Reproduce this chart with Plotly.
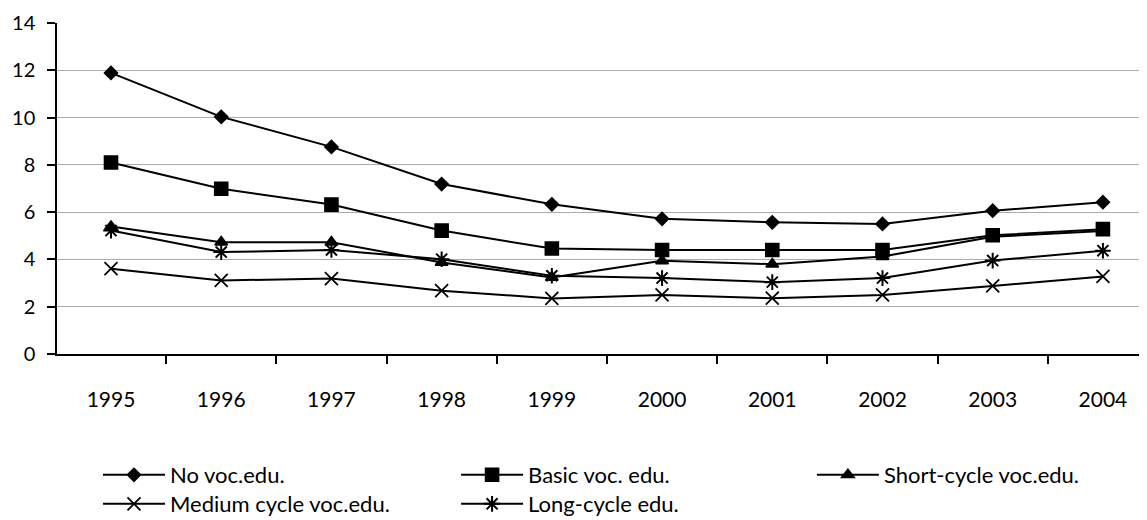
import plotly.graph_objects as go

years = ["1995", "1996", "1997", "1998", "1999", "2000", "2001", "2002", "2003", "2004"]

no_voc = [11.89, 10.03, 8.76, 7.19, 6.33, 5.72, 5.57, 5.50, 6.06, 6.42]
basic_voc = [8.10, 6.99, 6.32, 5.22, 4.46, 4.40, 4.40, 4.40, 5.02, 5.28]
short_cycle = [5.39, 4.73, 4.73, 3.87, 3.24, 3.94, 3.80, 4.12, 4.96, 5.20]
medium_cycle = [3.61, 3.11, 3.19, 2.68, 2.35, 2.50, 2.36, 2.50, 2.88, 3.28]
long_cycle = [5.22, 4.31, 4.40, 4.01, 3.31, 3.21, 3.04, 3.21, 3.95, 4.37]

FONT = "Lato, 'Open Sans', sans-serif"

# name, values, marker symbol, marker size, marker line width, legend slot (container coords)
series = [
    ("No voc.edu.", no_voc, "diamond", 10, 1.6, (0.079, 0.0879)),
    ("Basic voc. edu.", basic_voc, "square", 13, 1.6, (0.3934, 0.0879)),
    ("Short-cycle voc.edu.", short_cycle, "triangle-up", 11, 1.6, (0.7058, 0.0879)),
    ("Medium cycle voc.edu.", medium_cycle, "x-thin", 13, 1.8, (0.079, 0.0312)),
    ("Long-cycle edu.", long_cycle, "asterisk-open", 13, 2.0, (0.3934, 0.0312)),
]

fig = go.Figure()
legends = {}

for i, (name, values, symbol, size, lw, pos) in enumerate(series):
    key = "legend" if i == 0 else f"legend{i + 1}"
    fig.add_trace(go.Scatter(
        x=years,
        y=values,
        name=name,
        mode="lines+markers",
        line=dict(color="black", width=2),
        marker=dict(symbol=symbol, size=size, color="black",
                    line=dict(color="black", width=lw)),
        legend=key,
    ))
    legends[key] = dict(
        x=pos[0],
        y=pos[1],
        orientation="h",
        xref="container",
        yref="container",
        xanchor="left",
        yanchor="middle",
        font=dict(family=FONT, size=22, color="black"),
        itemwidth=62,
        bgcolor="rgba(0,0,0,0)",
    )

# the page body adds an 8px margin, so the figure is 8px smaller than the window
fig.update_layout(
    width=1139,
    height=512,
    margin=dict(l=49, r=0, t=15, b=166),
    paper_bgcolor="white",
    plot_bgcolor="white",
    font=dict(family=FONT, size=20, color="black"),
    showlegend=True,
    xaxis=dict(
        type="category",
        range=[-0.49, 9.40],
        automargin=False,
        showline=True,
        linecolor="black",
        linewidth=1.5,
        ticks="outside",
        tickson="boundaries",
        ticklen=8,
        tickcolor="black",
        tickwidth=1.5,
        ticklabelstandoff=26,
        showgrid=False,
        tickfont=dict(family=FONT, size=21, color="black"),
    ),
    yaxis=dict(
        range=[0, 14],
        dtick=2,
        automargin=False,
        showline=True,
        linecolor="black",
        linewidth=1.5,
        ticks="outside",
        ticklen=8,
        tickcolor="black",
        tickwidth=1.5,
        ticklabelstandoff=8,
        showgrid=True,
        gridcolor="#ababab",
        gridwidth=1,
        zeroline=False,
        tickfont=dict(family=FONT, size=20, color="black"),
    ),
    **legends,
)

fig.write_html("out.html")
